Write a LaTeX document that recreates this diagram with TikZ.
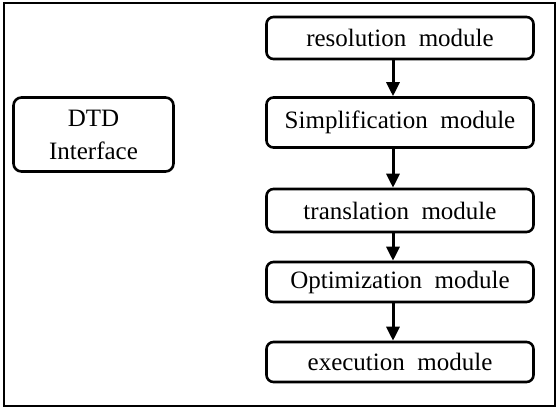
\documentclass[tikz,border=0pt]{standalone}
\usepackage{fontspec}
\setmainfont{Liberation Serif}
\usepackage{tikz}
\usetikzlibrary{arrows.meta}

\begin{document}
\begin{tikzpicture}[x=1pt, y=-1pt,
		box_style/.style={rectangle,rounded corners=7pt,draw=black,line width=2.6pt,fill=white,
			minimum width=267pt,inner sep=0pt,font=\fontsize{25}{30}\selectfont},
		side_style/.style={rectangle,rounded corners=8pt,draw=black,line width=2.6pt,
			minimum width=160pt,minimum height=74pt,align=center,inner sep=0pt,
			font=\fontsize{25}{33}\selectfont},
		edge_style/.style={draw=black,line width=3pt,-{Triangle[length=14pt,width=13pt]}}]

		\useasboundingbox (0,0) rectangle (558,408);
		\draw[line width=1.3pt] (4,3) rectangle (555,406);

		\node[side_style] (dtd) at (93.5,134.5) {DTD\\Interface};

		\node[box_style,minimum height=42pt] (res)  at (400,38)    {resolution\ \ module};
		\node[box_style,minimum height=50pt] (simp) at (400,122.5) {Simplification\ \ module};
		\node[box_style,minimum height=43pt] (tra)  at (400,210.5) {translation\ \ module};
		\node[box_style,minimum height=40pt] (opt)  at (400,282)   {Optimization\ \ module};
		\node[box_style,minimum height=40pt] (exe)  at (400,362)   {execution\ \ module};

		\draw[edge_style] ([xshift=-7pt]res.south)  -- ([xshift=-7pt]simp.north);
		\draw[edge_style] ([xshift=-7pt]simp.south) -- ([xshift=-7pt]tra.north);
		\draw[edge_style] ([xshift=-7pt]tra.south)  -- ([xshift=-7pt]opt.north);
		\draw[edge_style] ([xshift=-7pt]opt.south)  -- ([xshift=-7pt]exe.north);

\end{tikzpicture}
\end{document}
